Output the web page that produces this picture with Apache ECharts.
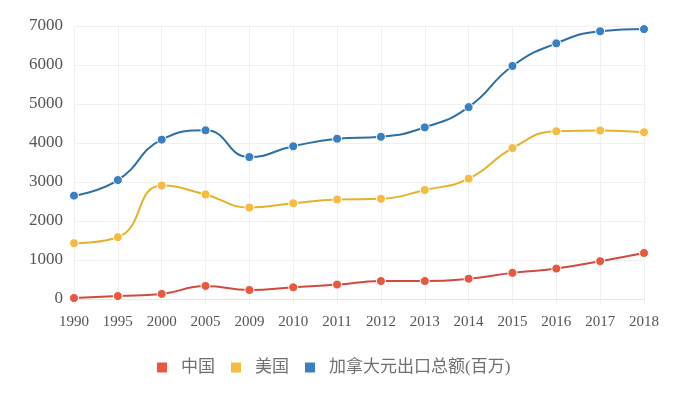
<!DOCTYPE html>
<html>
<head>
<meta charset="utf-8">
<script src="https://cdn.jsdelivr.net/npm/echarts@6/dist/echarts.min.js"></script>
<style>
  html, body { margin: 0; padding: 0; background: #fff; }
  #chart { width: 693px; height: 398px; }
</style>
</head>
<body>
<div id="chart"></div>
<script>
  // 年份
  const years = ['1990', '1995', '2000', '2005', '2009', '2010', '2011', '2012', '2013', '2014', '2015', '2016', '2017', '2018'];
  // 各系列数值
  const china = [25, 75, 130, 335, 230, 300, 370, 460, 460, 520, 670, 780, 970, 1180];
  const usa = [1430, 1585, 2910, 2680, 2345, 2455, 2550, 2570, 2795, 3085, 3870, 4300, 4320, 4275];
  const total = [2650, 3050, 4085, 4325, 3640, 3915, 4110, 4160, 4400, 4920, 5975, 6555, 6865, 6920];
  const seriesNames = ['中国', '美国', '加拿大元出口总额(百万)'];

  const font = '"Liberation Serif", "Noto Sans CJK SC", serif';

  function lineSeries(name, data, color, lineColor) {
    return {
      name: name,
      type: 'line',
      data: data,
      smooth: true,
      symbol: 'circle',
      symbolSize: 9,
      itemStyle: {
        color: color,
        borderColor: '#fff',
        borderWidth: 1
      },
      lineStyle: {
        color: lineColor,
        width: 2
      }
    };
  }

  let myChart = echarts.init(document.getElementById('chart'));
  let option = {
    backgroundColor: '#fff',
    animation: false,
    grid: {
      top: 26,
      left: 74,
      right: 49,
      bottom: 99
    },
    legend: {
      bottom: 17,
      left: 150,
      itemWidth: 12,
      itemHeight: 12,
      itemGap: 14,
      icon: 'rect',
      textStyle: {
        fontFamily: font,
        fontSize: 17,
        color: '#707070',
        padding: [0, 0, 0, 8]
      },
      data: seriesNames
    },
    xAxis: {
      type: 'category',
      data: years,
      boundaryGap: false,
      axisLine: { lineStyle: { color: '#e6e6e6' } },
      axisTick: { show: true, lineStyle: { color: '#eee' } },
      axisLabel: {
        fontFamily: font,
        fontSize: 15,
        color: '#555',
        margin: 16
      },
      splitLine: { show: true, lineStyle: { color: '#eef0f2' } }
    },
    yAxis: {
      type: 'value',
      min: 0,
      max: 7000,
      interval: 1000,
      axisLine: { show: false },
      axisTick: { show: false },
      axisLabel: {
        formatter: function (v) { return String(v); },
        fontFamily: font,
        fontSize: 17,
        color: '#555',
        margin: 11
      },
      splitLine: { lineStyle: { color: '#eef0f2' } }
    },
    series: [
      lineSeries(seriesNames[0], china, '#e9573f', '#d04b3e'),
      lineSeries(seriesNames[1], usa, '#f6bb42', '#e6b22e'),
      lineSeries(seriesNames[2], total, '#3a7fc1', '#2e6fa4')
    ]
  };
  myChart.setOption(option, true);
</script>
</body>
</html>
